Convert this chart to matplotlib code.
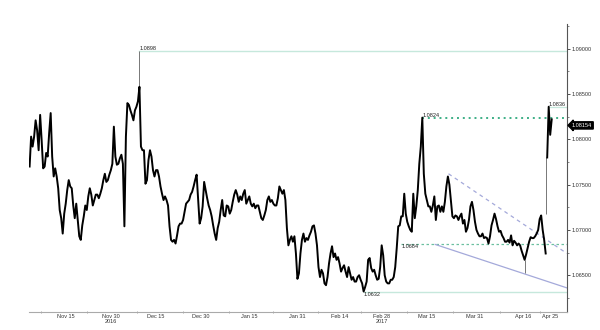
import matplotlib
matplotlib.use("Agg")
import matplotlib.pyplot as plt
import matplotlib.ticker as mticker
import pandas as pd

plt.rcParams['font.family'] = ['Liberation Sans', 'DejaVu Sans']

# ---------------- data ----------------
start = "2016-11-03 00:00"
prices = [
    1.0770, 1.0803, 1.0792, 1.0803, 1.0821, 1.0810, 1.0788, 1.0827, 1.0799, 1.0768,
    1.0770, 1.0785, 1.0781, 1.0807, 1.0829, 1.0781, 1.0759, 1.0768, 1.0759, 1.0746,
    1.0722, 1.0713, 1.0696, 1.0718, 1.0729, 1.0744, 1.0755, 1.0748, 1.0746, 1.0727,
    1.0713, 1.0729, 1.0711, 1.0693, 1.0689, 1.0705, 1.0715, 1.0727, 1.0722, 1.0737,
    1.0746, 1.0739, 1.0727, 1.0733, 1.0739, 1.0739, 1.0735, 1.0740, 1.0746, 1.0755,
    1.0762, 1.0753, 1.0755, 1.0761, 1.0766, 1.0773, 1.0814, 1.0781, 1.0772, 1.0773,
    1.0779, 1.0783, 1.0773, 1.0704, 1.0803, 1.0840, 1.0838, 1.0832, 1.0827, 1.0821,
    1.0832, 1.0836, 1.0842, 1.0858, 1.0792, 1.0788, 1.0788, 1.0751, 1.0755, 1.0777,
    1.0788, 1.0781, 1.0766, 1.0759, 1.0766, 1.0766, 1.0759, 1.0748, 1.0740, 1.0733,
    1.0737, 1.0733, 1.0727, 1.0704, 1.0689, 1.0687, 1.0689, 1.0685, 1.0694, 1.0704,
    1.0707, 1.0707, 1.0711, 1.0720, 1.0729, 1.0731, 1.0733, 1.0739, 1.0742, 1.0748,
    1.0755, 1.0761, 1.0733, 1.0707, 1.0713, 1.0726, 1.0753, 1.0744, 1.0735, 1.0727,
    1.0722, 1.0715, 1.0705, 1.0696, 1.0689, 1.0702, 1.0709, 1.0722, 1.0733, 1.0716,
    1.0715, 1.0727, 1.0726, 1.0718, 1.0722, 1.0731, 1.0739, 1.0744, 1.0739, 1.0731,
    1.0737, 1.0733, 1.0740, 1.0744, 1.0729, 1.0733, 1.0737, 1.0729, 1.0726, 1.0729,
    1.0724, 1.0727, 1.0727, 1.0720, 1.0713, 1.0711, 1.0716, 1.0722, 1.0733, 1.0737,
    1.0731, 1.0733, 1.0729, 1.0727, 1.0727, 1.0735, 1.0748, 1.0744, 1.0740, 1.0744,
    1.0733, 1.0702, 1.0683, 1.0689, 1.0693, 1.0687, 1.0693, 1.0674, 1.0646, 1.0652,
    1.0674, 1.0689, 1.0696, 1.0687, 1.0691, 1.0689, 1.0694, 1.0698, 1.0704, 1.0705,
    1.0696, 1.0683, 1.0659, 1.0648, 1.0656, 1.0652, 1.0641, 1.0639, 1.0648, 1.0663,
    1.0674, 1.0682, 1.0670, 1.0674, 1.0667, 1.0670, 1.0663, 1.0654, 1.0658, 1.0661,
    1.0654, 1.0648, 1.0659, 1.0652, 1.0645, 1.0648, 1.0643, 1.0643, 1.0648, 1.0650,
    1.0645, 1.0641, 1.0632, 1.0637, 1.0643, 1.0667, 1.0669, 1.0658, 1.0654, 1.0656,
    1.0650, 1.0645, 1.0646, 1.0659, 1.0683, 1.0672, 1.0650, 1.0643, 1.0641, 1.0641,
    1.0645, 1.0645, 1.0648, 1.0659, 1.0680, 1.0704, 1.0705, 1.0715, 1.0715, 1.0740,
    1.0718, 1.0709, 1.0704, 1.0700, 1.0698, 1.0740, 1.0713, 1.0726, 1.0744, 1.0773,
    1.0792, 1.0824, 1.0762, 1.0740, 1.0733, 1.0726, 1.0726, 1.0720, 1.0727, 1.0737,
    1.0711, 1.0726, 1.0727, 1.0720, 1.0726, 1.0720, 1.0731, 1.0748, 1.0759, 1.0750,
    1.0733, 1.0715, 1.0713, 1.0716, 1.0715, 1.0711, 1.0715, 1.0718, 1.0707, 1.0711,
    1.0698, 1.0702, 1.0711, 1.0726, 1.0731, 1.0722, 1.0709, 1.0700, 1.0696, 1.0693,
    1.0693, 1.0696, 1.0691, 1.0692, 1.0691, 1.0685, 1.0693, 1.0705, 1.0711, 1.0718,
    1.0712, 1.0704, 1.0698, 1.0699, 1.0694, 1.0691, 1.0687, 1.0687, 1.0689, 1.0686,
    1.0694, 1.0683, 1.0688, 1.0686, 1.0683, 1.0685, 1.0683, 1.0677, 1.0672, 1.0667,
    1.0673, 1.0680, 1.0687, 1.0692, 1.0691, 1.0691, 1.0693, 1.0696, 1.0700, 1.0712,
    1.0716, 1.0700, 1.0689, 1.0674, 1.0780, 1.0836, 1.0805, 1.0822,
]
gap_index = 344          # weekend gap (Apr 21 -> Apr 24)
last_price = 1.08154

# thin wicks (time, low, high)
wick_times = ["2016-12-09 12:00", "2017-04-23 12:00", "2017-04-16 12:00"]
wick_lo = [1.0858, 1.0718, 1.0652]
wick_hi = [1.0898, 1.0780, 1.0667]

# horizontal levels
level_values = [1.0898, 1.0824, 1.0836, 1.0684, 1.0632]
level_labels = ["1.0898", "1.0824", "1.0836", "1.0684", "1.0632"]
level_starts = ["2016-12-09 12:00", "2017-03-13 12:00", "2017-04-24 12:00",
                "2017-03-06 12:00", "2017-02-22 00:00"]

# trend lines (start/end time, start/end price)
lower_trend_t = ["2017-03-17 19:00", "2017-04-30 14:00"]
lower_trend_p = [1.0684, 1.0636]
upper_trend_t = ["2017-03-22 05:00", "2017-04-30 14:00"]
upper_trend_p = [1.0762, 1.0674]

# axis ticks
xlabel_dates = ["2016-11-15", "2016-11-30", "2016-12-15", "2016-12-30", "2017-01-15",
                "2017-01-31", "2017-02-14", "2017-02-28", "2017-03-15", "2017-03-31",
                "2017-04-16", "2017-04-25"]
xlabel_texts = ["Nov 15", "Nov 30\n2016", "Dec 15", "Dec 30", "Jan 15", "Jan 31",
                "Feb 14", "Feb 28\n2017", "Mar 15", "Mar 31", "Apr 16", "Apr 25"]
xminor_dates = ["2016-11-06 17:00", "2016-11-22 00:00", "2016-12-08 14:00",
                "2016-12-23 22:00", "2017-01-08 07:00", "2017-01-22 22:00",
                "2017-02-06 22:00", "2017-02-21 05:00", "2017-03-08 12:00",
                "2017-03-23 19:00", "2017-04-08 10:00", "2017-04-21 17:00"]
yticks = [1.065, 1.070, 1.075, 1.080, 1.085, 1.090]

# ---------------- plot ----------------
times = pd.date_range(start, periods=len(prices), freq="12h")
T = lambda lst: pd.to_datetime(lst)

fig = plt.figure(figsize=(6, 3.3), dpi=100)
ax = fig.add_axes([0.0483, 0.0545, 0.8967, 0.8727])

mint = "#c6e8dc"
styles = [
    dict(color=mint, lw=1.0, ls="-"),
    dict(color="#3daf86", lw=1.4, ls=(0, (1, 2))),
    dict(color=mint, lw=0.9, ls="-"),
    dict(color="#6cc0a0", lw=0.9, ls=(0, (2, 2))),
    dict(color=mint, lw=1.0, ls="-"),
]
xright = pd.Timestamp("2017-04-30 14:00")
for v, lab, s, st in zip(level_values, level_labels, styles, level_starts):
    t0 = pd.Timestamp(st)
    ax.plot([t0, xright], [v, v], zorder=1, **s)
    va = "bottom" if v > 1.075 else "top"
    ax.text(t0, v, lab, fontsize=4, ha="left", va=va, color="#222", zorder=5)

ax.plot(T(lower_trend_t), lower_trend_p, color="#a4a9da", lw=0.9, zorder=1)
ax.plot(T(upper_trend_t), upper_trend_p, color="#a4a9da", lw=0.9,
        ls=(0, (3, 3)), zorder=1)

ax.vlines(T(wick_times), wick_lo, wick_hi, color="#777777", lw=0.7, zorder=2)
ax.plot(times[:gap_index], prices[:gap_index], color="black", lw=1.4, zorder=3)
ax.plot(times[gap_index:], prices[gap_index:], color="black", lw=1.4, zorder=3)

ax.set_xlim(pd.Timestamp("2016-11-02 19:00"), xright)
ax.set_ylim(1.06094, 1.09273)

for sp in ("top", "left"):
    ax.spines[sp].set_visible(False)
ax.spines["right"].set_color("#555555")
ax.spines["right"].set_linewidth(0.8)
ax.spines["bottom"].set_color("#aaaaaa")
ax.spines["bottom"].set_linewidth(0.8)

ax.yaxis.tick_right()
ax.set_yticks(yticks)
ax.yaxis.set_major_formatter(mticker.FormatStrFormatter("%.5f"))
ax.yaxis.set_minor_locator(mticker.MultipleLocator(0.0025))
ax.tick_params(axis="y", which="major", direction="out", length=2, width=0.6,
               labelsize=4, pad=1, colors="#333333")
ax.tick_params(axis="y", which="minor", direction="out", length=1.5, width=0.5,
               colors="#555555")

ax.set_xticks(T(xlabel_dates))
ax.set_xticklabels(xlabel_texts, linespacing=1.05)
ax.set_xticks(T(xminor_dates), minor=True)
ax.tick_params(axis="x", which="major", length=0, labelsize=4, pad=1.5,
               colors="#333333")
ax.tick_params(axis="x", which="minor", direction="inout", length=2, width=0.5,
               colors="#888888")

ax.annotate(f"{last_price:.5f}", xy=(1.0, last_price),
            xycoords=("axes fraction", "data"), xytext=(3.5, 0),
            textcoords="offset points", fontsize=4, color="white",
            va="center", ha="left",
            bbox=dict(boxstyle="larrow,pad=0.2", fc="black", ec="black"))

fig.savefig("out.png", dpi=100)
